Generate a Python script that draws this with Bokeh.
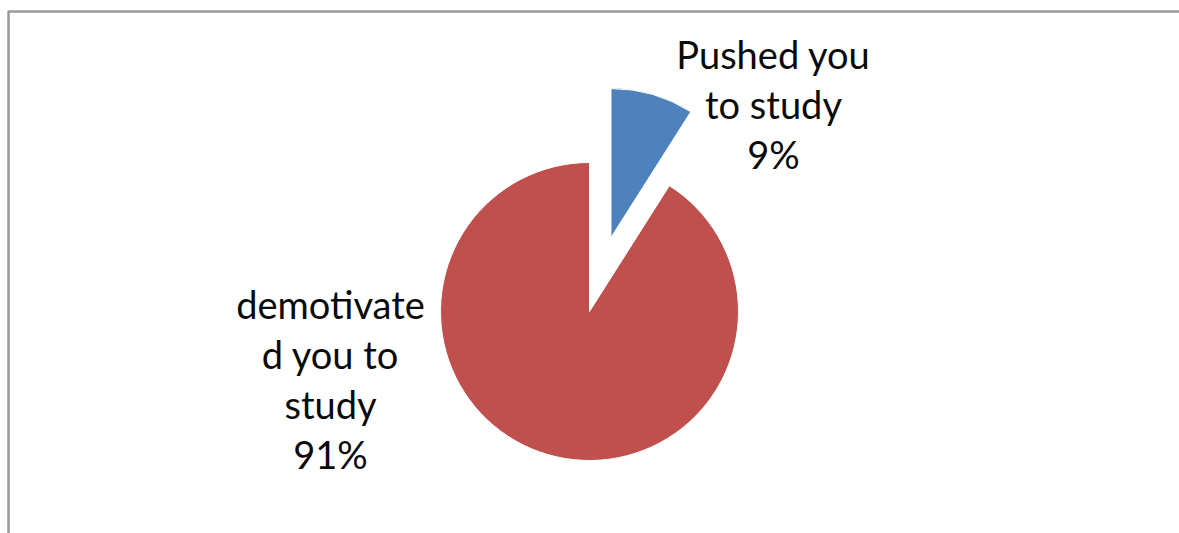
import math
from bokeh.plotting import figure
from bokeh.models import Range1d, ColumnDataSource
from bokeh.core.properties import value
from bokeh.embed import file_html
from bokeh.resources import INLINE

# ---- data ----
categories = ["Pushed you to study", "demotivated you to study"]
label_lines = [["Pushed you", "to study"], ["demotivate", "d you to", "study"]]
values = [9, 91]
colors = ["#4F81BD", "#C0504D"]
explode = [77, 0]  # pixel offset of each slice along its bisector

W, H = 1179, 533
p = figure(width=W, height=H, output_backend="svg", toolbar_location=None,
           x_range=Range1d(0, W), y_range=Range1d(0, H), min_border=0,
           outline_line_color=None)
p.axis.visible = False
p.grid.visible = False
p.background_fill_color = "white"
p.border_fill_color = "white"

# chart frame (only top and left edges visible)
p.quad(left=[8], right=[W + 20], top=[H - 11], bottom=[-20],
       fill_color=None, line_color="#9a9a9a", line_width=2.5)

cx, cy, r = 589, H - 311, 149
total = sum(values)
start = 0.0
xs, ys, sa, ea, cols = [], [], [], [], []
for v, c, e in zip(values, colors, explode):
    frac = v / total
    a0 = math.pi / 2 - 2 * math.pi * start
    a1 = math.pi / 2 - 2 * math.pi * (start + frac)
    mid = (a0 + a1) / 2
    xs.append(cx + e * math.cos(mid))
    ys.append(cy + e * math.sin(mid))
    sa.append(a0)
    ea.append(a1)
    cols.append(c)
    start += frac

src = ColumnDataSource(dict(x=xs, y=ys, start=sa, end=ea, color=cols))
p.wedge(x="x", y="y", radius=r, start_angle="start", end_angle="end",
        direction="clock", fill_color="color", line_color="white",
        line_width=1, source=src)

# labels
label_pos = [(773, 53), (330, 303)]
gap = 50
for lines, v, (lx, ly) in zip(label_lines, values, label_pos):
    texts = lines + [f"{v}%"]
    p.text(x=[lx] * len(texts), y=[H - (ly + i * gap) for i in range(len(texts))],
           text=texts, text_align="center", text_baseline="middle",
           text_font=value("Lato"), text_font_size="38px", text_color="#0a0a0a")

open("out.html", "w").write(file_html(p, INLINE))
